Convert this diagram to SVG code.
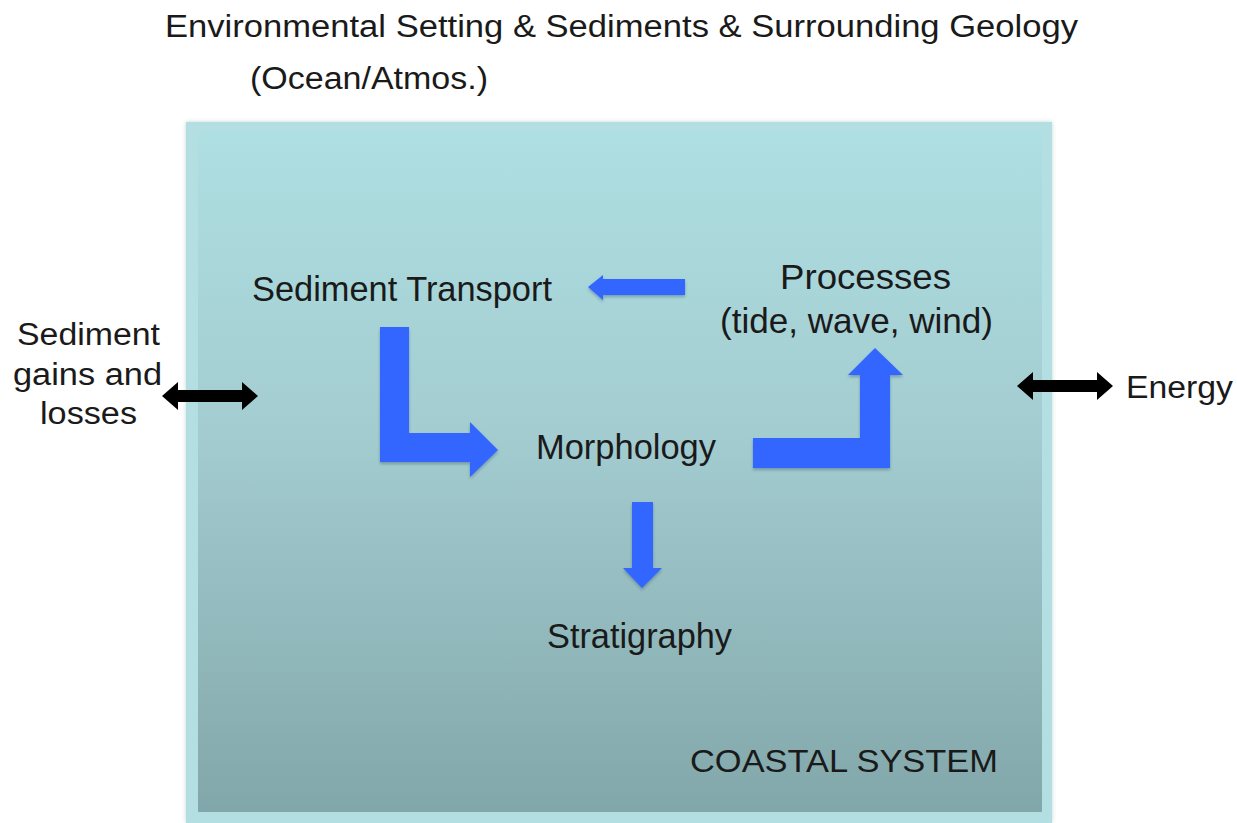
<svg xmlns="http://www.w3.org/2000/svg" width="1237" height="823" viewBox="0 0 1237 823">
  <defs>
    <linearGradient id="innerFill" x1="0" y1="0" x2="0" y2="1">
      <stop offset="0" stop-color="#aedfe2"/>
      <stop offset="0.45" stop-color="#a3ccd0"/>
      <stop offset="1" stop-color="#82a7aa"/>
    </linearGradient>
    <filter id="soft" x="-10%" y="-10%" width="120%" height="130%">
      <feDropShadow dx="0" dy="2" stdDeviation="1.5" flood-color="#1d3a5a" flood-opacity="0.35"/>
    </filter>
    <filter id="boxShadow" x="-5%" y="-5%" width="110%" height="110%">
      <feDropShadow dx="0" dy="0" stdDeviation="2" flood-color="#5a8a90" flood-opacity="0.35"/>
    </filter>
  </defs>
  <style>
    text { font-family: "Liberation Sans", Arial, Helvetica, sans-serif; fill: #1a1a1a; }
    .lbl { font-size: 31px; }
    .big { font-size: 35px; }
    .flow { fill: #3366ff; filter: url(#soft); }
    .link { fill: #000000; }
  </style>

  <rect width="1237" height="823" fill="#ffffff"/>

  <!-- coastal system frame -->
  <g id="coastal-system">
    <rect x="186" y="122" width="866" height="701" fill="#b4dfe2" filter="url(#boxShadow)"/>
    <rect x="198" y="132" width="844" height="680" fill="url(#innerFill)"/>
    <text class="lbl" x="690" y="772" textLength="308" lengthAdjust="spacingAndGlyphs">COASTAL SYSTEM</text>
  </g>

  <!-- headings above the frame -->
  <g id="setting">
    <text class="lbl" x="165" y="37" textLength="913" lengthAdjust="spacingAndGlyphs">Environmental Setting &amp; Sediments &amp; Surrounding Geology</text>
    <text class="lbl" x="250" y="89" textLength="238" lengthAdjust="spacingAndGlyphs">(Ocean/Atmos.)</text>
  </g>

  <g id="sediment-gains">
    <text class="lbl" x="17" y="345" textLength="143" lengthAdjust="spacingAndGlyphs">Sediment</text>
    <text class="lbl" x="13" y="385" textLength="149" lengthAdjust="spacingAndGlyphs">gains and</text>
    <text class="lbl" x="40" y="424" textLength="97" lengthAdjust="spacingAndGlyphs">losses</text>
  </g>

  <g id="energy">
    <text class="lbl" x="1126" y="398" textLength="107" lengthAdjust="spacingAndGlyphs">Energy</text>
  </g>

  <g id="sediment-transport">
    <text class="big" x="252" y="301" textLength="300" lengthAdjust="spacingAndGlyphs">Sediment Transport</text>
  </g>

  <g id="processes">
    <text class="big" x="780" y="289" textLength="171" lengthAdjust="spacingAndGlyphs">Processes</text>
    <text class="big" x="720" y="333" textLength="273" lengthAdjust="spacingAndGlyphs">(tide, wave, wind)</text>
  </g>

  <g id="morphology">
    <text class="big" x="536" y="459" textLength="180" lengthAdjust="spacingAndGlyphs">Morphology</text>
  </g>

  <g id="stratigraphy">
    <text class="big" x="547" y="648" textLength="185" lengthAdjust="spacingAndGlyphs">Stratigraphy</text>
  </g>

  <!-- connectors -->
  <g id="connectors">
    <!-- processes -> sediment transport -->
    <path class="flow" d="M685,279 L603,279 L603,275 L588,287 L603,300 L603,295 L685,295 Z"/>
    <!-- sediment transport -> morphology -->
    <path class="flow" d="M380,327 L409,327 L409,433 L470,433 L470,422 L498,450 L470,477 L470,462 L380,462 Z"/>
    <!-- morphology -> processes -->
    <path class="flow" d="M753,438 L860,438 L860,375 L848,375 L875,348 L903,375 L890,375 L890,468 L753,468 Z"/>
    <!-- morphology -> stratigraphy -->
    <path class="flow" d="M632,502 L653,502 L653,568 L662,568 L642,588 L623,568 L632,568 Z"/>
    <!-- sediment exchange across the boundary -->
    <path class="link" d="M162,396 L178,382 L178,390 L242,390 L242,382 L258,396 L242,410 L242,402 L178,402 L178,410 Z"/>
    <!-- energy exchange across the boundary -->
    <path class="link" d="M1017,386 L1033,372 L1033,380 L1097,380 L1097,372 L1113,386 L1097,400 L1097,392 L1033,392 L1033,400 Z"/>
  </g>
</svg>
